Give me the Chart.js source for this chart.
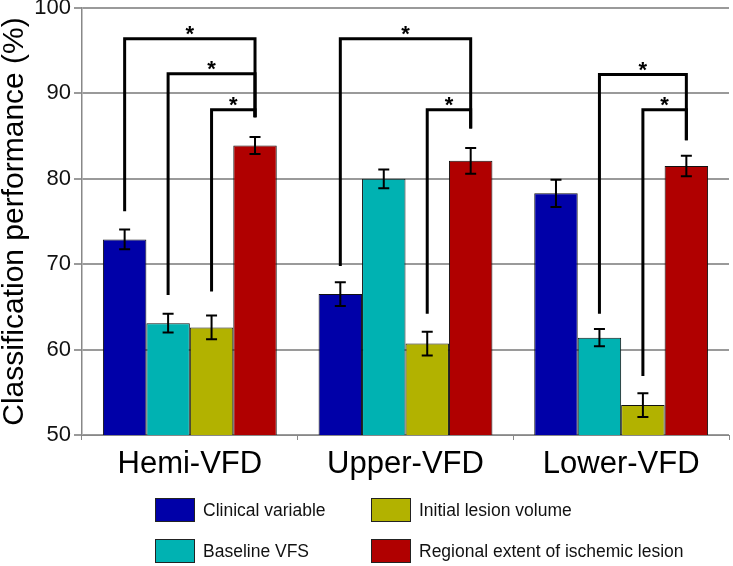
<!DOCTYPE html>
<html>
<head>
<meta charset="utf-8">
<script src="https://cdn.jsdelivr.net/npm/chart.js@4.4.1/dist/chart.umd.min.js"></script>
<style>
    body { margin: 0; background: #fff; font-family: 'Liberation Sans', Arial, sans-serif; }
    #wrap { position: relative; width: 733px; height: 566px; }
    #legend { position: absolute; left: 0; top: 0; width: 733px; height: 566px; pointer-events: none; }
    .item { position: absolute; display: flex; align-items: center; font-size: 17.5px; color: #111; }
    .box { width: 38px; height: 22px; border: 1px solid #222; margin-right: 8px; }
</style>
</head>
<body>
<div id="wrap">
    <canvas id="chart" width="733" height="566"></canvas>
    <div id="legend"></div>
</div>
<script>
// Data
const categories = ['Hemi-VFD', 'Upper-VFD', 'Lower-VFD'];
const seriesNames = ['Clinical variable', 'Baseline VFS', 'Initial lesion volume', 'Regional extent of ischemic lesion'];
const seriesColors = ['#0000A8', '#00B2B2', '#B2B200', '#B00000'];

const clinical = [72.9, 66.5, 78.3];
const baseline = [63.1, 80.0, 61.4];
const initialVolume = [62.6, 60.7, 53.5];
const regionalExtent = [83.9, 82.1, 81.5];

const clinicalErr = [1.15, 1.4, 1.6];
const baselineErr = [1.1, 1.1, 1.0];
const initialVolumeErr = [1.4, 1.4, 1.4];
const regionalExtentErr = [1.0, 1.5, 1.2];

const yTicks = [50, 60, 70, 80, 90, 100];

// Significance brackets (group, from series, to series, bracket level, leg ends)
const bracketGroup = [0, 0, 0, 1, 1, 2, 2];
const bracketFrom = [0, 1, 2, 0, 2, 1, 2];
const bracketTo = [3, 3, 3, 3, 3, 3, 3];
const bracketLevel = [96.4, 92.3, 88.1, 96.4, 88.1, 92.2, 88.1];
const bracketFromEnd = [76.2, 66.4, 66.8, 69.8, 64.2, 64.2, 56.9];
const bracketToEnd = [87.2, 87.2, 87.2, 85.9, 85.9, 84.5, 84.5];

const values = [clinical, baseline, initialVolume, regionalExtent];
const errors = [clinicalErr, baselineErr, initialVolumeErr, regionalExtentErr];

// Error bars + brackets drawn on top of the bars
const overlayPlugin = {
    id: 'overlay',
    afterDatasetsDraw(chart) {
        const ctx = chart.ctx;
        const y = chart.scales.y;

        ctx.save();
        ctx.strokeStyle = '#000';
        ctx.lineWidth = 2;
        values.forEach((vals, s) => {
            const meta = chart.getDatasetMeta(s);
            vals.forEach((v, i) => {
                const cx = meta.data[i].x;
                const top = y.getPixelForValue(v + errors[s][i]);
                const bot = y.getPixelForValue(v - errors[s][i]);
                ctx.beginPath();
                ctx.moveTo(cx, top); ctx.lineTo(cx, bot);
                ctx.moveTo(cx - 5.5, top); ctx.lineTo(cx + 5.5, top);
                ctx.moveTo(cx - 5.5, bot); ctx.lineTo(cx + 5.5, bot);
                ctx.stroke();
            });
        });

        ctx.lineWidth = 3;
        ctx.fillStyle = '#000';
        ctx.font = 'bold 22px "Liberation Sans", Arial, sans-serif';
        ctx.textAlign = 'center';
        ctx.textBaseline = 'alphabetic';
        bracketGroup.forEach((g, k) => {
            const x1 = chart.getDatasetMeta(bracketFrom[k]).data[g].x;
            const x2 = chart.getDatasetMeta(bracketTo[k]).data[g].x;
            const ly = y.getPixelForValue(bracketLevel[k]);
            ctx.beginPath();
            ctx.moveTo(x1, y.getPixelForValue(bracketFromEnd[k]));
            ctx.lineTo(x1, ly);
            ctx.lineTo(x2, ly);
            ctx.lineTo(x2, y.getPixelForValue(bracketToEnd[k]));
            ctx.stroke();
            ctx.fillText('*', (x1 + x2) / 2, ly + 2);
        });
        ctx.restore();
    }
};

const chart = new Chart(document.getElementById('chart'), {
    type: 'bar',
    data: {
        labels: categories,
        datasets: values.map((vals, s) => ({
            label: seriesNames[s],
            data: vals,
            backgroundColor: seriesColors[s],
            borderColor: '#111',
            borderWidth: 1,
            borderSkipped: false,
            categoryPercentage: 0.806,
            barPercentage: 1.0
        }))
    },
    options: {
        responsive: false,
        animation: false,
        layout: { padding: { top: 8, right: 4, bottom: 80, left: 0 } },
        plugins: {
            legend: { display: false },
            tooltip: { enabled: false }
        },
        scales: {
            x: {
                offset: true,
                grid: { display: true, offset: true, drawOnChartArea: false, tickLength: 5, color: '#888', lineWidth: 1 },
                border: { color: '#888', width: 1 },
                ticks: {
                    color: '#000',
                    padding: 6,
                    font: { family: '"Liberation Sans", Arial, sans-serif', size: 31 }
                },
                afterFit(scale) {
                    scale.height = 51;
                    scale.paddingLeft = 0;
                    scale.paddingRight = 0;
                }
            },
            y: {
                min: 50,
                max: 100,
                afterBuildTicks(scale) {
                    scale.ticks = yTicks.map(v => ({ value: v }));
                },
                grid: { color: '#9a9a9a', lineWidth: 2, tickLength: 8 },
                border: { color: '#888', width: 1.5 },
                ticks: {
                    color: '#111',
                    padding: 3,
                    font: { family: '"Liberation Sans", Arial, sans-serif', size: 22 }
                },
                title: {
                    display: true,
                    text: 'Classification performance (%)',
                    color: '#000',
                    padding: 0,
                    font: { family: '"Liberation Sans", Arial, sans-serif', size: 30, lineHeight: 1 }
                },
                afterFit(scale) {
                    scale.width = 82;
                    scale.paddingTop = 0;
                    scale.paddingBottom = 0;
                }
            }
        }
    },
    plugins: [overlayPlugin]
});

// Legend in two columns (column-major order)
const legendEl = document.getElementById('legend');
const legendLeft = [155, 155, 371, 371];
const legendTop = [498, 539, 498, 539];
seriesNames.forEach((name, s) => {
    const item = document.createElement('div');
    item.className = 'item';
    item.style.left = legendLeft[s] + 'px';
    item.style.top = legendTop[s] + 'px';
    item.innerHTML = `<div class="box" style="background:${seriesColors[s]}"></div><span>${name}</span>`;
    legendEl.appendChild(item);
});
</script>
</body>
</html>
